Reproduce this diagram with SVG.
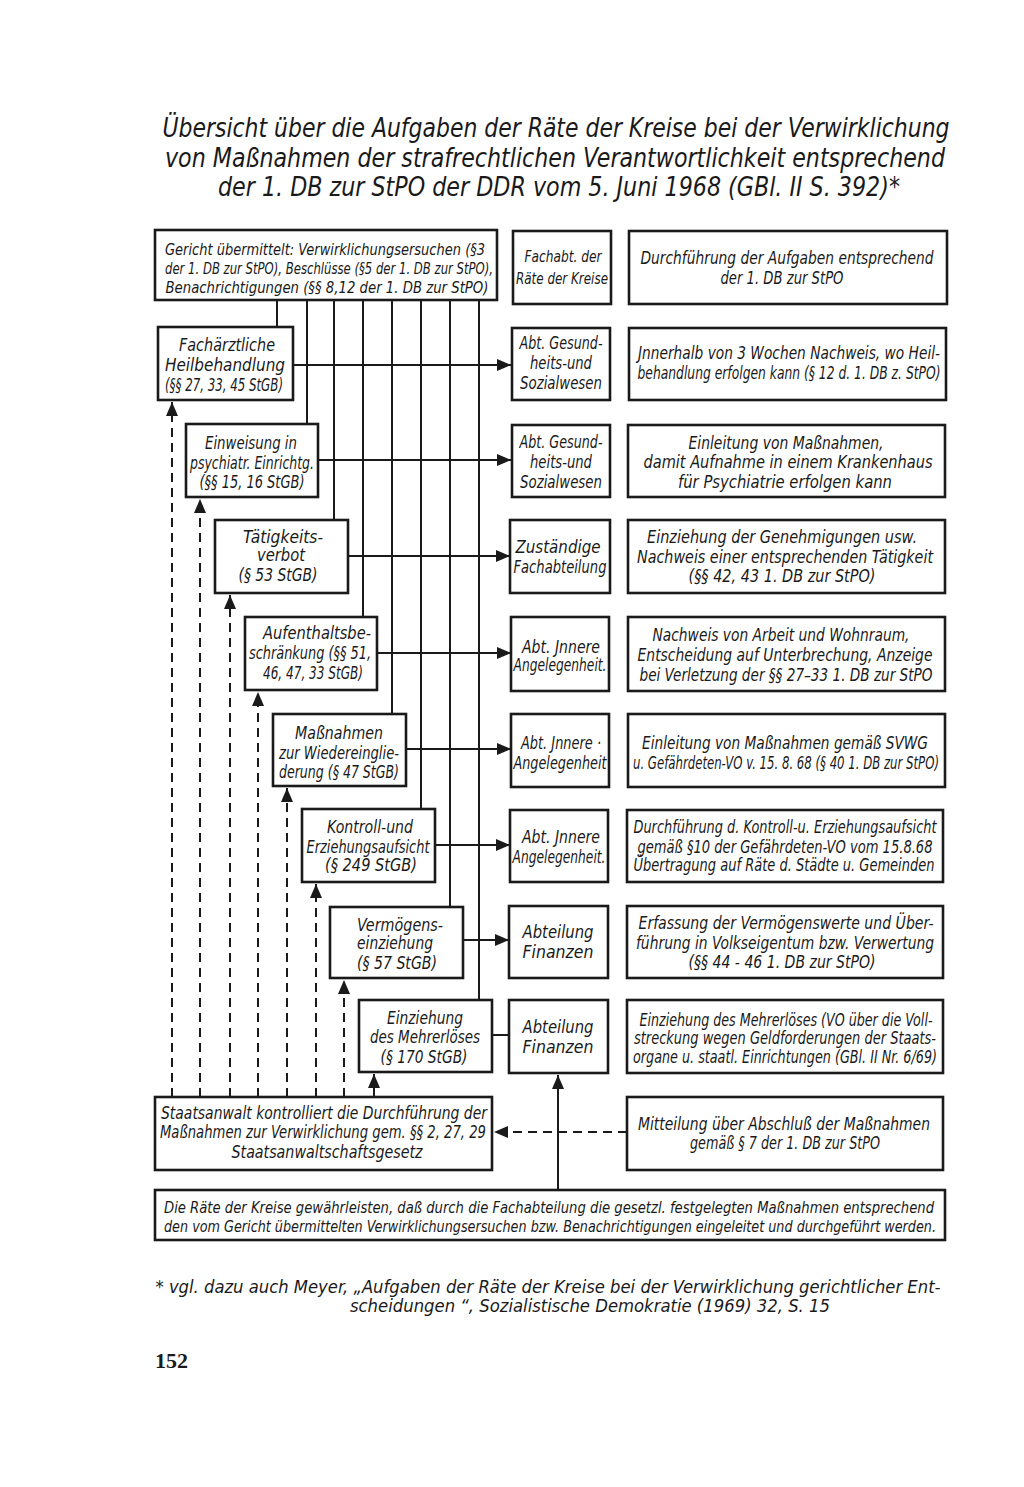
<svg xmlns="http://www.w3.org/2000/svg" width="1024" height="1487" viewBox="0 0 1024 1487">
<style>
.bg{fill:#fff}
.box{fill:#fff;stroke:#1a1a1a;stroke-width:2.6}
.t{font-family:"Liberation Sans Narrow","DejaVu Sans Condensed","Liberation Sans",sans-serif;font-style:italic;font-size:17px;fill:#1a1a1a;text-anchor:middle}
.s{font-size:15px}
.m{font-size:16px}
.ttl{font-family:"Liberation Sans Narrow","DejaVu Sans Condensed","Liberation Sans",sans-serif;font-style:italic;font-size:26px;fill:#1a1a1a;text-anchor:middle}
.ln{fill:none;stroke:#1a1a1a;stroke-width:2}
.dash{fill:none;stroke:#1a1a1a;stroke-width:2;stroke-dasharray:9 6}
.pg{font-family:"Liberation Serif",serif;font-weight:bold;font-size:22px;fill:#1a1a1a}
</style>
<defs>
<marker id="ah" viewBox="0 0 14 12" refX="14" refY="6" markerWidth="14" markerHeight="12" markerUnits="userSpaceOnUse" orient="auto">
<path d="M0,0 L14,6 L0,12 Z" fill="#1a1a1a"/>
</marker>
</defs>
<rect class="bg" x="0" y="0" width="1024" height="1487"/>

<g id="title">
<text class="ttl" x="556" y="137" textLength="787" lengthAdjust="spacingAndGlyphs">Übersicht über die Aufgaben der Räte der Kreise bei der Verwirklichung</text>
<text class="ttl" x="555" y="167" textLength="780" lengthAdjust="spacingAndGlyphs">von  Maßnahmen der strafrechtlichen Verantwortlichkeit entsprechend</text>
<text class="ttl" x="559" y="196" textLength="682" lengthAdjust="spacingAndGlyphs">der 1. DB zur StPO der DDR vom 5. Juni 1968  (GBl. II S. 392)*</text>
</g>

<g id="connectors">
<line class="ln" x1="277" y1="300" x2="277" y2="327"/>
<line class="ln" x1="307" y1="300" x2="307" y2="424"/>
<line class="ln" x1="334" y1="300" x2="334" y2="520"/>
<line class="ln" x1="363" y1="300" x2="363" y2="617"/>
<line class="ln" x1="392" y1="300" x2="392" y2="714"/>
<line class="ln" x1="421" y1="300" x2="421" y2="809"/>
<line class="ln" x1="450" y1="300" x2="450" y2="907"/>
<line class="ln" x1="479" y1="300" x2="479" y2="1000"/>
<line class="ln" x1="293" y1="365" x2="511" y2="365" marker-end="url(#ah)"/>
<line class="ln" x1="318" y1="460" x2="511" y2="460" marker-end="url(#ah)"/>
<line class="ln" x1="348" y1="556" x2="510" y2="556" marker-end="url(#ah)"/>
<line class="ln" x1="377" y1="653" x2="511" y2="653" marker-end="url(#ah)"/>
<line class="ln" x1="406" y1="749" x2="511" y2="749" marker-end="url(#ah)"/>
<line class="ln" x1="435" y1="845" x2="510" y2="845" marker-end="url(#ah)"/>
<line class="ln" x1="463" y1="940" x2="509" y2="940" marker-end="url(#ah)"/>
<line class="ln" x1="492" y1="1035" x2="509" y2="1035"/>
<line class="dash" x1="172" y1="1097" x2="172" y2="402" marker-end="url(#ah)"/>
<line class="dash" x1="200" y1="1097" x2="200" y2="499" marker-end="url(#ah)"/>
<line class="dash" x1="230" y1="1097" x2="230" y2="595" marker-end="url(#ah)"/>
<line class="dash" x1="258" y1="1097" x2="258" y2="692" marker-end="url(#ah)"/>
<line class="dash" x1="287" y1="1097" x2="287" y2="788" marker-end="url(#ah)"/>
<line class="dash" x1="316" y1="1097" x2="316" y2="884" marker-end="url(#ah)"/>
<line class="dash" x1="344" y1="1097" x2="344" y2="980" marker-end="url(#ah)"/>
<line class="dash" x1="374" y1="1097" x2="374" y2="1074" marker-end="url(#ah)"/>
<line class="ln" x1="558" y1="1190" x2="558" y2="1075" marker-end="url(#ah)"/>
<line class="dash" x1="627" y1="1132" x2="494" y2="1132" marker-end="url(#ah)"/>
</g>

<g id="gericht">
<rect class="box" x="155" y="230" width="342" height="70"/>
<text class="t s" x="325" y="255" textLength="320" lengthAdjust="spacingAndGlyphs">Gericht übermittelt: Verwirklichungsersuchen (§3</text>
<text class="t s" x="329" y="274" textLength="328" lengthAdjust="spacingAndGlyphs">der 1. DB zur StPO), Beschlüsse (§5 der 1. DB zur StPO),</text>
<text class="t s" x="327" y="293" textLength="323" lengthAdjust="spacingAndGlyphs">Benachrichtigungen (§§ 8,12 der 1. DB zur StPO)</text>
</g>
<g id="fachabt">
<rect class="box" x="513" y="231" width="98" height="73"/>
<text class="t s" x="563" y="262" textLength="77" lengthAdjust="spacingAndGlyphs">Fachabt. der</text>
<text class="t s" x="562" y="284" textLength="92" lengthAdjust="spacingAndGlyphs">Räte der Kreise</text>
</g>
<g id="durchfuehrung">
<rect class="box" x="629" y="231" width="318" height="73"/>
<text class="t" x="787" y="264" textLength="293" lengthAdjust="spacingAndGlyphs">Durchführung der Aufgaben entsprechend</text>
<text class="t" x="782" y="284" textLength="123" lengthAdjust="spacingAndGlyphs">der 1. DB zur StPO</text>
</g>

<g id="l1">
<rect class="box" x="158" y="327" width="135" height="73"/>
<text class="t" x="227" y="351" textLength="96" lengthAdjust="spacingAndGlyphs">Fachärztliche</text>
<text class="t" x="225" y="371" textLength="120" lengthAdjust="spacingAndGlyphs">Heilbehandlung</text>
<text class="t" x="224" y="391" textLength="118" lengthAdjust="spacingAndGlyphs">(§§ 27, 33, 45 StGB)</text>
</g>
<g id="m1">
<rect class="box" x="512" y="328" width="98" height="72"/>
<text class="t" x="561" y="349" textLength="83" lengthAdjust="spacingAndGlyphs">Abt. Gesund-</text>
<text class="t" x="561" y="369" textLength="62" lengthAdjust="spacingAndGlyphs">heits-und</text>
<text class="t" x="561" y="389" textLength="82" lengthAdjust="spacingAndGlyphs">Sozialwesen</text>
</g>
<g id="r1">
<rect class="box" x="629" y="328" width="317" height="72"/>
<text class="t" x="789" y="359" textLength="302" lengthAdjust="spacingAndGlyphs">Jnnerhalb von 3 Wochen Nachweis, wo Heil-</text>
<text class="t" x="789" y="379" textLength="303" lengthAdjust="spacingAndGlyphs">behandlung erfolgen kann (§ 12 d. 1. DB z. StPO)</text>
</g>

<g id="l2">
<rect class="box" x="186" y="424" width="132" height="73"/>
<text class="t" x="251" y="449" textLength="92" lengthAdjust="spacingAndGlyphs">Einweisung in</text>
<text class="t" x="252" y="469" textLength="124" lengthAdjust="spacingAndGlyphs">psychiatr. Einrichtg.</text>
<text class="t" x="252" y="488" textLength="105" lengthAdjust="spacingAndGlyphs">(§§ 15, 16 StGB)</text>
</g>
<g id="m2">
<rect class="box" x="512" y="425" width="98" height="72"/>
<text class="t" x="561" y="448" textLength="83" lengthAdjust="spacingAndGlyphs">Abt. Gesund-</text>
<text class="t" x="561" y="468" textLength="62" lengthAdjust="spacingAndGlyphs">heits-und</text>
<text class="t" x="561" y="488" textLength="82" lengthAdjust="spacingAndGlyphs">Sozialwesen</text>
</g>
<g id="r2">
<rect class="box" x="628" y="425" width="317" height="72"/>
<text class="t" x="786" y="449" textLength="195" lengthAdjust="spacingAndGlyphs">Einleitung von Maßnahmen,</text>
<text class="t" x="788" y="468" textLength="289" lengthAdjust="spacingAndGlyphs">damit Aufnahme in einem Krankenhaus</text>
<text class="t" x="785" y="488" textLength="214" lengthAdjust="spacingAndGlyphs">für Psychiatrie erfolgen kann</text>
</g>

<g id="l3">
<rect class="box" x="215" y="520" width="133" height="73"/>
<text class="t" x="283" y="543" textLength="80" lengthAdjust="spacingAndGlyphs">Tätigkeits-</text>
<text class="t" x="281" y="561" textLength="48" lengthAdjust="spacingAndGlyphs">verbot</text>
<text class="t" x="278" y="581" textLength="79" lengthAdjust="spacingAndGlyphs">(§ 53 StGB)</text>
</g>
<g id="m3">
<rect class="box" x="510" y="520" width="100" height="73"/>
<text class="t" x="558" y="553" textLength="85" lengthAdjust="spacingAndGlyphs">Zuständige</text>
<text class="t" x="560" y="573" textLength="93" lengthAdjust="spacingAndGlyphs">Fachabteilung</text>
</g>
<g id="r3">
<rect class="box" x="628" y="520" width="317" height="73"/>
<text class="t" x="782" y="543" textLength="270" lengthAdjust="spacingAndGlyphs">Einziehung der Genehmigungen usw.</text>
<text class="t" x="785" y="563" textLength="296" lengthAdjust="spacingAndGlyphs">Nachweis einer entsprechenden Tätigkeit</text>
<text class="t" x="782" y="582" textLength="187" lengthAdjust="spacingAndGlyphs">(§§ 42, 43 1. DB zur StPO)</text>
</g>

<g id="l4">
<rect class="box" x="245" y="617" width="132" height="73"/>
<text class="t" x="317" y="639" textLength="108" lengthAdjust="spacingAndGlyphs">Aufenthaltsbe-</text>
<text class="t" x="310" y="659" textLength="122" lengthAdjust="spacingAndGlyphs">schränkung (§§ 51,</text>
<text class="t" x="313" y="679" textLength="100" lengthAdjust="spacingAndGlyphs">46, 47, 33 StGB)</text>
</g>
<g id="m4">
<rect class="box" x="511" y="617" width="98" height="74"/>
<text class="t" x="561" y="653" textLength="78" lengthAdjust="spacingAndGlyphs">Abt. Jnnere</text>
<text class="t" x="560" y="671" textLength="93" lengthAdjust="spacingAndGlyphs">Angelegenheit.</text>
</g>
<g id="r4">
<rect class="box" x="628" y="617" width="317" height="74"/>
<text class="t" x="781" y="641" textLength="257" lengthAdjust="spacingAndGlyphs">Nachweis von Arbeit und Wohnraum,</text>
<text class="t" x="785" y="661" textLength="295" lengthAdjust="spacingAndGlyphs">Entscheidung auf Unterbrechung, Anzeige</text>
<text class="t" x="786" y="681" textLength="293" lengthAdjust="spacingAndGlyphs">bei Verletzung der §§ 27–33 1. DB zur StPO</text>
</g>

<g id="l5">
<rect class="box" x="273" y="714" width="133" height="72"/>
<text class="t" x="339" y="739" textLength="88" lengthAdjust="spacingAndGlyphs">Maßnahmen</text>
<text class="t" x="339" y="759" textLength="120" lengthAdjust="spacingAndGlyphs">zur Wiedereinglie-</text>
<text class="t" x="339" y="778" textLength="120" lengthAdjust="spacingAndGlyphs">derung (§ 47 StGB)</text>
</g>
<g id="m5">
<rect class="box" x="511" y="714" width="98" height="73"/>
<text class="t" x="561" y="749" textLength="80" lengthAdjust="spacingAndGlyphs">Abt. Jnnere ·</text>
<text class="t" x="560" y="769" textLength="93" lengthAdjust="spacingAndGlyphs">Angelegenheit</text>
</g>
<g id="r5">
<rect class="box" x="628" y="714" width="317" height="73"/>
<text class="t" x="785" y="749" textLength="286" lengthAdjust="spacingAndGlyphs">Einleitung von Maßnahmen gemäß SVWG</text>
<text class="t" x="786" y="769" textLength="306" lengthAdjust="spacingAndGlyphs">u. Gefährdeten-VO v. 15. 8. 68 (§ 40 1. DB zur StPO)</text>
</g>

<g id="l6">
<rect class="box" x="302" y="809" width="133" height="73"/>
<text class="t" x="370" y="833" textLength="86" lengthAdjust="spacingAndGlyphs">Kontroll-und</text>
<text class="t" x="368" y="853" textLength="123" lengthAdjust="spacingAndGlyphs">Erziehungsaufsicht</text>
<text class="t" x="371" y="871" textLength="92" lengthAdjust="spacingAndGlyphs">(§ 249 StGB)</text>
</g>
<g id="m6">
<rect class="box" x="510" y="810" width="98" height="72"/>
<text class="t" x="561" y="843" textLength="78" lengthAdjust="spacingAndGlyphs">Abt. Jnnere</text>
<text class="t" x="559" y="863" textLength="93" lengthAdjust="spacingAndGlyphs">Angelegenheit.</text>
</g>
<g id="r6">
<rect class="box" x="627" y="810" width="316" height="72"/>
<text class="t" x="785" y="833" textLength="303" lengthAdjust="spacingAndGlyphs">Durchführung d. Kontroll-u. Erziehungsaufsicht</text>
<text class="t" x="785" y="853" textLength="295" lengthAdjust="spacingAndGlyphs">gemäß §10 der Gefährdeten-VO vom 15.8.68</text>
<text class="t" x="784" y="871" textLength="301" lengthAdjust="spacingAndGlyphs">Übertragung auf Räte d. Städte u. Gemeinden</text>
</g>

<g id="l7">
<rect class="box" x="330" y="907" width="133" height="71"/>
<text class="t" x="400" y="931" textLength="86" lengthAdjust="spacingAndGlyphs">Vermögens-</text>
<text class="t" x="395" y="949" textLength="76" lengthAdjust="spacingAndGlyphs">einziehung</text>
<text class="t" x="397" y="969" textLength="80" lengthAdjust="spacingAndGlyphs">(§ 57 StGB)</text>
</g>
<g id="m7">
<rect class="box" x="509" y="906" width="99" height="72"/>
<text class="t" x="558" y="938" textLength="71" lengthAdjust="spacingAndGlyphs">Abteilung</text>
<text class="t" x="558" y="958" textLength="71" lengthAdjust="spacingAndGlyphs">Finanzen</text>
</g>
<g id="r7">
<rect class="box" x="627" y="906" width="316" height="72"/>
<text class="t" x="786" y="929" textLength="295" lengthAdjust="spacingAndGlyphs">Erfassung der Vermögenswerte und Über-</text>
<text class="t" x="785" y="949" textLength="298" lengthAdjust="spacingAndGlyphs">führung in Volkseigentum bzw. Verwertung</text>
<text class="t" x="782" y="968" textLength="187" lengthAdjust="spacingAndGlyphs">(§§ 44 - 46 1. DB zur StPO)</text>
</g>

<g id="l8">
<rect class="box" x="359" y="1000" width="133" height="72"/>
<text class="t" x="425" y="1024" textLength="76" lengthAdjust="spacingAndGlyphs">Einziehung</text>
<text class="t" x="425" y="1043" textLength="110" lengthAdjust="spacingAndGlyphs">des Mehrerlöses</text>
<text class="t" x="424" y="1063" textLength="87" lengthAdjust="spacingAndGlyphs">(§ 170 StGB)</text>
</g>
<g id="m8">
<rect class="box" x="509" y="1000" width="99" height="73"/>
<text class="t" x="558" y="1033" textLength="71" lengthAdjust="spacingAndGlyphs">Abteilung</text>
<text class="t" x="558" y="1053" textLength="71" lengthAdjust="spacingAndGlyphs">Finanzen</text>
</g>
<g id="r8">
<rect class="box" x="627" y="1000" width="316" height="73"/>
<text class="t" x="786" y="1026" textLength="293" lengthAdjust="spacingAndGlyphs">Einziehung des Mehrerlöses (VO über die Voll-</text>
<text class="t" x="785" y="1044" textLength="302" lengthAdjust="spacingAndGlyphs">streckung  wegen Geldforderungen der Staats-</text>
<text class="t" x="785" y="1063" textLength="304" lengthAdjust="spacingAndGlyphs">organe u. staatl. Einrichtungen (GBl. II Nr. 6/69)</text>
</g>

<g id="staatsanwalt">
<rect class="box" x="155" y="1097" width="337" height="73"/>
<text class="t" x="324" y="1119" textLength="326" lengthAdjust="spacingAndGlyphs">Staatsanwalt kontrolliert die  Durchführung der</text>
<text class="t" x="323" y="1138" textLength="326" lengthAdjust="spacingAndGlyphs">Maßnahmen zur Verwirklichung gem. §§ 2, 27, 29</text>
<text class="t" x="327" y="1158" textLength="191" lengthAdjust="spacingAndGlyphs">Staatsanwaltschaftsgesetz</text>
</g>
<g id="mitteilung">
<rect class="box" x="627" y="1097" width="316" height="73"/>
<text class="t" x="784" y="1130" textLength="292" lengthAdjust="spacingAndGlyphs">Mitteilung über Abschluß der Maßnahmen</text>
<text class="t" x="785" y="1149" textLength="190" lengthAdjust="spacingAndGlyphs">gemäß § 7 der 1. DB zur StPO</text>
</g>
<g id="raete">
<rect class="box" x="155" y="1190" width="790" height="50"/>
<text class="t m" x="549" y="1213" textLength="770" lengthAdjust="spacingAndGlyphs">Die Räte der Kreise gewährleisten, daß durch die Fachabteilung die gesetzl. festgelegten Maßnahmen entsprechend</text>
<text class="t m" x="550" y="1232" textLength="772" lengthAdjust="spacingAndGlyphs">den vom Gericht übermittelten Verwirklichungsersuchen bzw. Benachrichtigungen eingeleitet und durchgeführt werden.</text>
</g>

<g id="footnote">
<text class="t" x="548" y="1293" textLength="785" lengthAdjust="spacingAndGlyphs">* vgl. dazu auch Meyer, „Aufgaben der Räte der Kreise bei der Verwirklichung gerichtlicher Ent-</text>
<text class="t" x="590" y="1312" textLength="480" lengthAdjust="spacingAndGlyphs">scheidungen “, Sozialistische Demokratie (1969) 32, S. 15</text>
<text class="pg" x="155" y="1368">152</text>
</g>
</svg>
